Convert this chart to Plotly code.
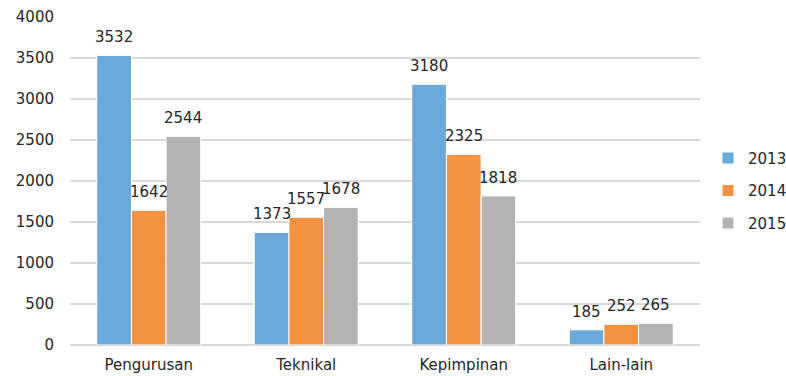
import plotly.graph_objects as go

categories = ["Pengurusan", "Teknikal", "Kepimpinan", "Lain-lain"]
years = ["2013", "2014", "2015"]
values_2013 = [3532, 1373, 3180, 185]
values_2014 = [1642, 1557, 2325, 252]
values_2015 = [2544, 1678, 1818, 265]
colors = ["#6CA9DB", "#F39240", "#B3B3B3"]
y_ticks = [0, 500, 1000, 1500, 2000, 2500, 3000, 3500, 4000]

series = [values_2013, values_2014, values_2015]
font_family = "DejaVu Sans, sans-serif"
text_color = "#262626"
bargap = 0.34

fig = go.Figure()
for name, vals, col in zip(years, series, colors):
    fig.add_trace(go.Bar(
        name=name, x=categories, y=vals, legendgroup=name,
        marker=dict(color=col, line=dict(color="white", width=1)),
    ))

# value labels above each bar, placed on the category axis with group offsets
bar_w = (1 - bargap) / len(series)
annotations = []
for k, vals in enumerate(series):
    off = (k - (len(series) - 1) / 2) * bar_w
    for i, v in enumerate(vals):
        annotations.append(dict(
            x=i + off, y=v, xref="x", yref="y", text=str(v),
            showarrow=False, yanchor="bottom", yshift=7,
            font=dict(family=font_family, size=15, color=text_color),
        ))

fig.update_layout(
    width=786, height=376,
    margin=dict(l=70, r=86, t=17, b=31, autoexpand=False),
    paper_bgcolor="white", plot_bgcolor="white",
    barmode="group", bargap=bargap, bargroupgap=0,
    font=dict(family=font_family, size=15, color=text_color),
    showlegend=True,
    legend=dict(x=1.0127, xanchor="left", y=0.47, yanchor="middle",
                font=dict(size=15, color=text_color),
                itemwidth=30, traceorder="grouped", tracegroupgap=10,
                borderwidth=0),
    annotations=annotations,
)
fig.update_xaxes(showgrid=False, showline=False, ticks="",
                 ticklabelstandoff=9,
                 tickfont=dict(size=15, color=text_color))
fig.update_yaxes(range=[0, 4000], tickvals=y_ticks, showgrid=True,
                 gridcolor="#D9D9D9", gridwidth=1.5, zeroline=True,
                 zerolinecolor="#D9D9D9", zerolinewidth=1.5,
                 ticks="", ticklabelstandoff=15,
                 tickfont=dict(size=15, color=text_color))

fig.write_html("out.html")
